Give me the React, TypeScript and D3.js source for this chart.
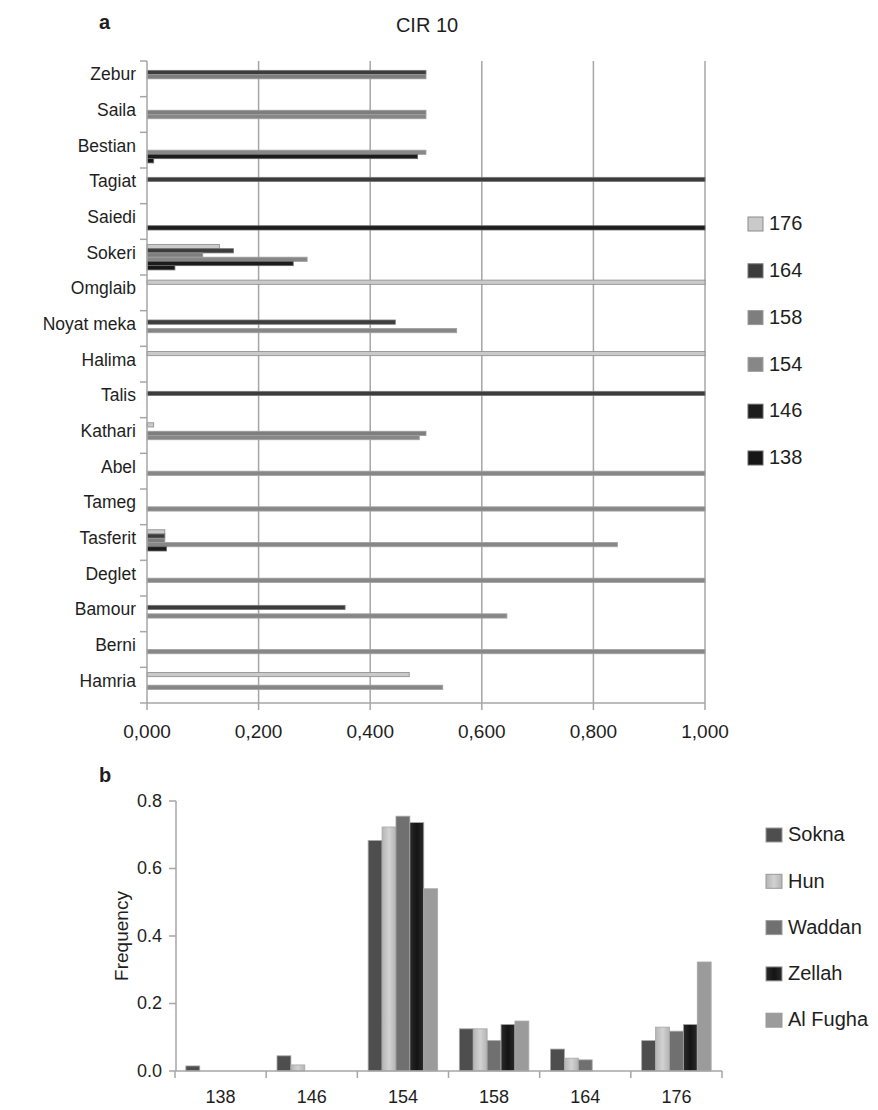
import * as d3 from "d3";

// panel a: CIR 10 allele frequencies per population
const topCategories = [
  "Zebur", "Saila", "Bestian", "Tagiat", "Saiedi", "Sokeri", "Omglaib", "Noyat meka", "Halima",
  "Talis", "Kathari", "Abel", "Tameg", "Tasferit", "Deglet", "Bamour", "Berni", "Hamria",
];
const topSeries = ["176", "164", "158", "154", "146", "138"];
const a176 = [0, 0, 0, 0, 0, 0.13, 1, 0, 1, 0, 0.012, 0, 0, 0.032, 0, 0, 0, 0.47];
const a164 = [0.5, 0, 0, 1, 0, 0.155, 0, 0.445, 0, 1, 0, 0, 0, 0.032, 0, 0.355, 0, 0];
const a158 = [0.5, 0.5, 0, 0, 0, 0.1, 0, 0, 0, 0, 0.5, 0, 0, 0.032, 0, 0, 0, 0];
const a154 = [0, 0.5, 0.5, 0, 0, 0.287, 0, 0.555, 0, 0, 0.488, 1, 1, 0.843, 1, 0.645, 1, 0.53];
const a146 = [0, 0, 0.485, 0, 1, 0.262, 0, 0, 0, 0, 0, 0, 0, 0.035, 0, 0, 0, 0];
const a138 = [0, 0, 0.012, 0, 0, 0.05, 0, 0, 0, 0, 0, 0, 0, 0, 0, 0, 0, 0];
const topTicks = [0, 0.2, 0.4, 0.6, 0.8, 1.0];

// panel b: frequency by allele for five populations
const alleles = ["138", "146", "154", "158", "164", "176"];
const populations = ["Sokna", "Hun", "Waddan", "Zellah", "Al Fugha"];
const sokna = [0.015, 0.045, 0.683, 0.125, 0.065, 0.09];
const hun = [0, 0.018, 0.723, 0.125, 0.038, 0.13];
const waddan = [0, 0, 0.755, 0.09, 0.033, 0.118];
const zellah = [0, 0, 0.736, 0.138, 0, 0.138];
const alFugha = [0, 0, 0.54, 0.148, 0, 0.323];
const bottomTicks = [0, 0.2, 0.4, 0.6, 0.8];

const topValues = [a176, a164, a158, a154, a146, a138];
const topFill: Record<string, string> = {
  "176": "#cacaca", "164": "#3c3c3c", "158": "#7e7e7e", "154": "#878787", "146": "#1c1c1c", "138": "#161616",
};
const topStroke: Record<string, string> = {
  "176": "#8c8c8c", "164": "#777", "158": "#9a9a9a", "154": "#a0a0a0", "146": "#666", "138": "#666",
};
const botValues = [sokna, hun, waddan, zellah, alFugha];
const botFill: Record<string, string> = {
  Sokna: "#4e4e4e", Hun: "url(#gHun)", Waddan: "#707070", Zellah: "url(#gZel)", "Al Fugha": "#9b9b9b",
};

const FONT = "'Liberation Sans', Arial, Helvetica, sans-serif";
const GRID = "#a6a6a6";
const INK = "#1e1e1e";

export default function App() {
  // ---- top chart scales
  const xTop = d3.scaleLinear().domain([0, 1]).range([147, 705]);
  const yTop = d3.scaleBand<string>().domain(topCategories).range([61, 703]).padding(0);
  const ySub = d3.scaleBand<string>().domain(topSeries).range([0, yTop.bandwidth()]).paddingInner(0).paddingOuter(1.2);
  const fmtTop = (v: number) => d3.format(".3f")(v).replace(".", ",");

  // ---- bottom chart scales
  const xBot = d3.scaleBand<string>().domain(alleles).range([175, 722]).padding(0);
  const xSub = d3.scaleBand<string>().domain(populations).range([0, xBot.bandwidth()]).paddingInner(0).paddingOuter(0.78);
  const yBot = d3.scaleLinear().domain([0, 0.8]).range([1071, 801]);

  return (
    <svg width={878} height={1110} style={{ position: "absolute", left: 0, top: 0, background: "#fff" }} fontFamily={FONT}>
      <defs>
        <linearGradient id="gHun" x1="0" x2="1" y1="0" y2="0">
          <stop offset="0" stopColor="#b4b4b4" />
          <stop offset="0.5" stopColor="#d2d2d2" />
          <stop offset="1" stopColor="#b4b4b4" />
        </linearGradient>
        <linearGradient id="gZel" x1="0" x2="1" y1="0" y2="0">
          <stop offset="0" stopColor="#2a2a2a" />
          <stop offset="0.5" stopColor="#141414" />
          <stop offset="1" stopColor="#2a2a2a" />
        </linearGradient>
      </defs>

      {/* ===== panel a ===== */}
      <text x={99} y={29} fontWeight="bold" fontSize={20} fill={INK}>a</text>
      <text x={427} y={32} textAnchor="middle" fontSize={20} fill={INK}>CIR 10</text>

      {/* gridlines */}
      {topTicks.slice(1).map((t) => (
        <line key={t} x1={xTop(t)} x2={xTop(t)} y1={61} y2={703} stroke={GRID} strokeWidth={1.5} />
      ))}

      {/* bars */}
      {topSeries.map((s, si) =>
        topCategories.map((c, ci) => {
          const v = topValues[si][ci];
          if (!v) return null;
          return (
            <rect
              key={s + c}
              x={xTop(0)}
              y={(yTop(c) as number) + (ySub(s) as number)}
              width={xTop(v) - xTop(0)}
              height={ySub.bandwidth()}
              fill={topFill[s]}
              stroke={topStroke[s]}
              strokeWidth={0.8}
            />
          );
        })
      )}

      {/* axes */}
      <line x1={147} x2={147} y1={61} y2={703} stroke={GRID} strokeWidth={1.5} />
      <line x1={147} x2={xTop(1)} y1={703} y2={703} stroke={GRID} strokeWidth={1.5} />
      {topCategories.concat(["end"]).map((c, i) => {
        const y = 61 + i * yTop.step();
        return <line key={"lt" + i} x1={140} x2={147} y1={y} y2={y} stroke={GRID} strokeWidth={1.5} />;
      })}
      {topTicks.map((t) => (
        <g key={"bt" + t}>
          <line x1={xTop(t)} x2={xTop(t)} y1={703} y2={710} stroke={GRID} strokeWidth={1.5} />
          <text x={xTop(t)} y={738} textAnchor="middle" fontSize={19} fill={INK}>{fmtTop(t)}</text>
        </g>
      ))}
      {topCategories.map((c) => (
        <text key={"lab" + c} x={136} y={(yTop(c) as number) + yTop.bandwidth() / 2 - 3} textAnchor="end"
          dominantBaseline="middle" fontSize={17.5} fill={INK}>{c}</text>
      ))}

      {/* legend a */}
      {topSeries.map((s, i) => {
        const y = 224 + i * 46.8;
        return (
          <g key={"lg" + s}>
            <rect x={748} y={y - 7} width={15} height={14} fill={topFill[s]} stroke={topStroke[s]} strokeWidth={1} />
            <text x={769} y={y + 1} dominantBaseline="middle" fontSize={20} fill={INK}>{s}</text>
          </g>
        );
      })}

      {/* ===== panel b ===== */}
      <text x={99} y={782} fontWeight="bold" fontSize={20} fill={INK}>b</text>

      {botValues.map((vals, pi) =>
        alleles.map((a, ai) => {
          const v = vals[ai];
          if (!v) return null;
          const p = populations[pi];
          return (
            <rect
              key={p + a}
              x={(xBot(a) as number) + (xSub(p) as number)}
              y={yBot(v)}
              width={xSub.bandwidth()}
              height={yBot(0) - yBot(v)}
              fill={botFill[p]}
              stroke="#a8a8a8"
              strokeWidth={0.8}
            />
          );
        })
      )}

      <line x1={176} x2={176} y1={801} y2={1071} stroke={GRID} strokeWidth={1.5} />
      <line x1={176} x2={722} y1={1071} y2={1071} stroke={GRID} strokeWidth={1.5} />
      {bottomTicks.map((t) => (
        <g key={"yt" + t}>
          <line x1={169} x2={176} y1={yBot(t)} y2={yBot(t)} stroke={GRID} strokeWidth={1.5} />
          <text x={162} y={yBot(t) + 1} textAnchor="end" dominantBaseline="middle" fontSize={18} fill={INK}>
            {d3.format(".1f")(t)}
          </text>
        </g>
      ))}
      {alleles.concat(["end"]).map((a, i) => {
        const x = 175 + i * xBot.step();
        return <line key={"xt" + i} x1={x} x2={x} y1={1071} y2={1078} stroke={GRID} strokeWidth={1.5} />;
      })}
      {alleles.map((a) => (
        <text key={"xl" + a} x={(xBot(a) as number) + xBot.bandwidth() / 2} y={1103} textAnchor="middle" fontSize={18} fill={INK}>{a}</text>
      ))}
      <text transform="translate(128,936) rotate(-90)" textAnchor="middle" fontSize={19} fill={INK}>Frequency</text>

      {/* legend b */}
      {populations.map((p, i) => {
        const y = 835 + i * 46.3;
        return (
          <g key={"lb" + p}>
            <rect x={766} y={y - 7} width={16} height={14} fill={botFill[p]} stroke="#999" strokeWidth={1} />
            <text x={788} y={y + 1} dominantBaseline="middle" fontSize={20} fill={INK}>{p}</text>
          </g>
        );
      })}
    </svg>
  );
}
